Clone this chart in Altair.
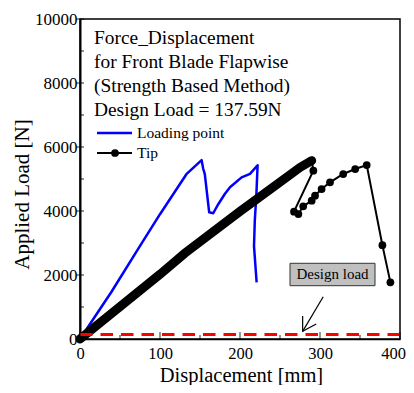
import altair as alt
import pandas as pd

# ---- data ----
# Loading point (blue)
load_x = [0, 39, 72.5, 100, 116.7, 133, 152, 154, 156, 161.5, 166.5, 173, 181, 187.5, 202, 212.5, 222, 220.5, 218.5, 217.5, 220.8]
load_y = [0, 1460, 2810, 3900, 4530, 5150, 5590, 5320, 5150, 3960, 3930, 4220, 4530, 4740, 5050, 5160, 5430, 4530, 3700, 2900, 1770]

# Tip (black) - densely sampled loading branch (markers merge into a thick band)
tip_band_x = [0, 100, 131, 200, 250, 275, 289.6]
tip_band_y = [0, 2020, 2680, 3990, 4900, 5360, 5572]
# Tip (black) - after first failure, individual markers visible
tip_x = [289.6, 291.7, 267.5, 273, 279, 289.6, 293.8, 302, 312.5, 329, 344, 358.4, 378, 388]
tip_y = [5572, 5260, 3980, 3905, 4146, 4323, 4479, 4687, 4896, 5156, 5312, 5437, 2930, 1770]

design_load = 137.59

x_major = [0, 100, 200, 300, 400]
x_minor = [50, 150, 250, 350]
y_major = [0, 2000, 4000, 6000, 8000, 10000]
y_minor = [1000, 3000, 5000, 7000, 9000]

title_lines = ["Force_Displacement", "for Front Blade Flapwise",
               "(Strength Based Method)", "Design Load = 137.59N"]
legend_labels = ["Loading point", "Tip"]

# annotation (data coordinates)
box_x = [262.5, 368.75]
box_y = [1666, 2366]
box_label = "Design load"
arrow_start = [304, 1322]
arrow_end = [278.3, 240]

FONT = "Liberation Serif"

xs = alt.Scale(domain=[0, 400], nice=False)
ys = alt.Scale(domain=[0, 10000], nice=False)

load_df = pd.DataFrame({"x": load_x, "y": load_y, "o": range(len(load_x))})
band_df = pd.DataFrame({"x": tip_band_x, "y": tip_band_y, "o": range(len(tip_band_x))})
tip_df = pd.DataFrame({"x": tip_x, "y": tip_y, "o": range(len(tip_x))})
one = pd.DataFrame({"a": [0]})

X = alt.X("x:Q", scale=xs, axis=alt.Axis(
    values=x_major, format="d", title="Displacement [mm]", ticks=False,
    labelPadding=6, labelFlush=False, labelFont=FONT, labelFontSize=16.5,
    labelOffset={"condition": {"test": "datum.value == 400", "value": -7}, "value": 0},
    titleX=161, titleY=42, titleFont=FONT, titleFontSize=20.5,
    titleBaseline="alphabetic", domainWidth=1.5))
Y = alt.Y("y:Q", scale=ys, axis=alt.Axis(
    values=y_major, format="d", title="Applied Load [N]", ticks=False,
    labelPadding=3, labelFlush=False, labelFont=FONT, labelFontSize=17,
    titleX=-52, titleY=175, titleAngle=-90, titleFont=FONT, titleFontSize=21,
    titleAlign="center", titleBaseline="alphabetic", domainWidth=2))

blue = alt.Chart(load_df).mark_line(color="#0000ff", strokeWidth=2.5, strokeJoin="round").encode(
    x=X, y=Y, order="o:Q")

band = alt.Chart(band_df).mark_line(color="black", strokeWidth=9, strokeCap="round").encode(
    x=alt.X("x:Q", scale=xs), y=alt.Y("y:Q", scale=ys), order="o:Q")

tip_line = alt.Chart(tip_df).mark_line(color="black", strokeWidth=2).encode(
    x=alt.X("x:Q", scale=xs), y=alt.Y("y:Q", scale=ys), order="o:Q")
tip_pts = alt.Chart(tip_df).mark_point(color="black", filled=True, opacity=1, size=60).encode(
    x=alt.X("x:Q", scale=xs), y=alt.Y("y:Q", scale=ys))

dl = alt.Chart(pd.DataFrame({"y": [design_load]})).mark_rule(
    color="#ff0000", strokeWidth=3, strokeDash=[12.5, 8]).encode(y=alt.Y("y:Q", scale=ys))

xt_major = alt.Chart(pd.DataFrame({"x": x_major})).mark_tick(
    color="black", size=7, thickness=1.2, orient="vertical").encode(
    x=alt.X("x:Q", scale=xs), y=alt.value(316.5))
xt_minor = alt.Chart(pd.DataFrame({"x": x_minor})).mark_tick(
    color="black", size=4, thickness=1.2, orient="vertical").encode(
    x=alt.X("x:Q", scale=xs), y=alt.value(318))
yt_major = alt.Chart(pd.DataFrame({"y": y_major})).mark_tick(
    color="black", size=8, thickness=1.2, orient="horizontal").encode(
    y=alt.Y("y:Q", scale=ys), x=alt.value(0))
yt_minor = alt.Chart(pd.DataFrame({"y": y_minor})).mark_tick(
    color="black", size=4, thickness=1.2, orient="horizontal").encode(
    y=alt.Y("y:Q", scale=ys), x=alt.value(2))

title_txt = alt.Chart(one).mark_text(
    text=title_lines, font=FONT, fontSize=19.4, lineHeight=24, align="left",
    baseline="alphabetic", color="black").encode(x=alt.value(14), y=alt.value(25))

leg_blue = alt.Chart(one).mark_rule(color="#0000ff", strokeWidth=2.5).encode(
    x=alt.value(17), x2=alt.value(52), y=alt.value(114))
leg_black = alt.Chart(one).mark_rule(color="black", strokeWidth=2).encode(
    x=alt.value(17), x2=alt.value(52), y=alt.value(134))
leg_pt = alt.Chart(one).mark_point(color="black", filled=True, opacity=1, size=60).encode(
    x=alt.value(35), y=alt.value(134))
leg_t1 = alt.Chart(one).mark_text(text=legend_labels[0], font=FONT, fontSize=15.5, align="left",
                                  baseline="middle", color="black").encode(
    x=alt.value(57), y=alt.value(114))
leg_t2 = alt.Chart(one).mark_text(text=legend_labels[1], font=FONT, fontSize=15.5, align="left",
                                  baseline="middle", color="black").encode(
    x=alt.value(57), y=alt.value(134))

box = alt.Chart(pd.DataFrame({"x": [box_x[0]], "x2": [box_x[1]], "y": [box_y[0]], "y2": [box_y[1]]})).mark_rect(
    fill="#c0c0c0", stroke="#333333", strokeWidth=1).encode(
    x=alt.X("x:Q", scale=xs), x2="x2:Q", y=alt.Y("y:Q", scale=ys), y2="y2:Q")
box_txt = alt.Chart(pd.DataFrame({"x": [(box_x[0] + box_x[1]) / 2], "y": [(box_y[0] + box_y[1]) / 2],
                                  "t": [box_label]})).mark_text(
    font=FONT, fontSize=15, color="black", baseline="middle", align="center").encode(
    x=alt.X("x:Q", scale=xs), y=alt.Y("y:Q", scale=ys), text="t:N")

arrow_df = pd.DataFrame({"x": [arrow_start[0], arrow_end[0]], "y": [arrow_start[1], arrow_end[1]], "o": [0, 1]})
arrow = alt.Chart(arrow_df).mark_line(color="black", strokeWidth=1.2).encode(
    x=alt.X("x:Q", scale=xs), y=alt.Y("y:Q", scale=ys), order="o:Q")
head = alt.Chart(pd.DataFrame({"x": [arrow_end[0]], "y": [arrow_end[1]]})).mark_point(
    shape="M -0.6 -1 L 0 0 L 0.6 -1", filled=False, color="black", strokeWidth=1.2,
    size=700, angle=31, opacity=1).encode(
    x=alt.X("x:Q", scale=xs), y=alt.Y("y:Q", scale=ys))

chart = alt.layer(
    blue, band, tip_line, tip_pts, dl, box, box_txt, arrow, head,
    xt_major, xt_minor, yt_major, yt_minor,
    title_txt, leg_blue, leg_black, leg_pt, leg_t1, leg_t2,
).properties(
    width=320, height=320,
    padding={"left": 72, "top": 11, "right": 6, "bottom": 46},
    autosize=alt.AutoSizeParams(type="none"),
).configure_view(
    stroke="black", strokeWidth=1.5
).configure_axis(
    grid=False, domainColor="black", labelColor="black", titleColor="black",
    titleFontWeight="normal",
)

chart.save("out.html", embed_options={"renderer": "svg", "actions": False})
